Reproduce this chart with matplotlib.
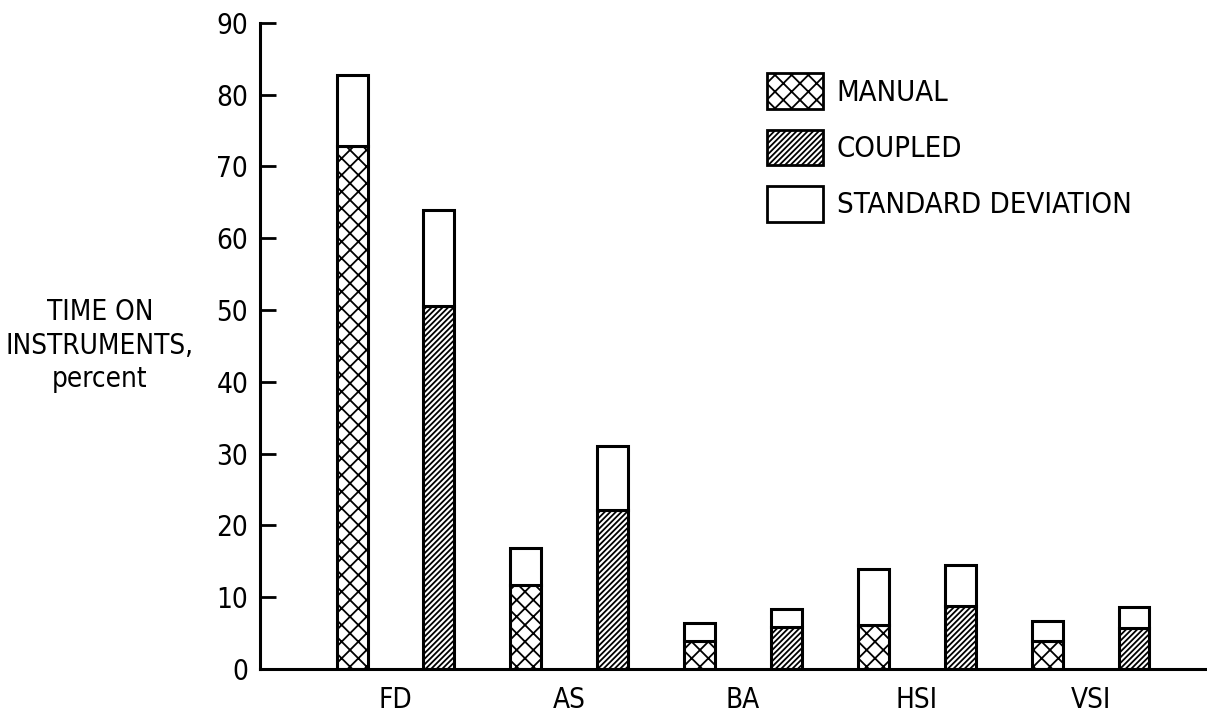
import matplotlib

matplotlib.use("Agg")
import matplotlib.pyplot as plt
import numpy as np
from matplotlib.patches import Patch

# values (percent time on instruments)
instruments = ["FD", "AS", "BA", "HSI", "VSI"]
manual_mean = [72.8, 11.7, 3.9, 6.2, 3.9]
manual_top = [82.7, 16.9, 6.4, 13.9, 6.7]      # mean + standard deviation
coupled_mean = [50.6, 22.2, 5.9, 8.8, 5.7]
coupled_top = [63.9, 31.0, 8.3, 14.5, 8.7]
yticks = [0, 10, 20, 30, 40, 50, 60, 70, 80, 90]

plt.rcParams["font.family"] = ["DejaVu Sans"]
plt.rcParams["font.stretch"] = "condensed"
plt.rcParams["hatch.linewidth"] = 1.3

fig = plt.figure(figsize=(12.07, 7.17), dpi=100)
ax = fig.add_axes([0.2154, 0.0669, 0.7846, 0.9014])

x = np.arange(len(instruments))
width = 0.178
off = 0.25
edge = dict(edgecolor="black", linewidth=2.2)

man_sd = np.array(manual_top) - np.array(manual_mean)
cpl_sd = np.array(coupled_top) - np.array(coupled_mean)

ax.bar(x - off, manual_mean, width, color="white", hatch="xx", **edge)
ax.bar(x - off, man_sd, width, bottom=manual_mean, color="white", **edge)
ax.bar(x + off, coupled_mean, width, color="white", hatch="//////", **edge)
ax.bar(x + off, cpl_sd, width, bottom=coupled_mean, color="white", **edge)

ax.set_xlim(-0.780, 4.670)
ax.set_ylim(0, 90)
ax.set_yticks(yticks)
ax.set_xticks(x)
ax.set_xticklabels(instruments)
ax.tick_params(axis="y", direction="in", length=11.5, width=2, pad=8.5, labelsize=20)
ax.tick_params(axis="x", length=0, pad=12, labelsize=20)

for s in ["top", "right"]:
    ax.spines[s].set_visible(False)
for s in ["left", "bottom"]:
    ax.spines[s].set_linewidth(2.2)

ax.set_ylabel("TIME ON\nINSTRUMENTS,\npercent", rotation=0, ha="center", va="center",
              fontsize=20, linespacing=1.25)
ax.yaxis.set_label_coords(-0.169, 0.50)

handles = [
    Patch(facecolor="white", edgecolor="black", linewidth=2, hatch="xx"),
    Patch(facecolor="white", edgecolor="black", linewidth=2, hatch="//////"),
    Patch(facecolor="white", edgecolor="black", linewidth=2),
]
ax.legend(handles, ["MANUAL", "COUPLED", "STANDARD DEVIATION"], loc="upper left",
          bbox_to_anchor=(0.535, 0.922), frameon=False, fontsize=21, borderpad=0,
          borderaxespad=0, handlelength=1.92, handleheight=1.52, labelspacing=0.7,
          handletextpad=0.48)

fig.savefig("out.png", dpi=100)
